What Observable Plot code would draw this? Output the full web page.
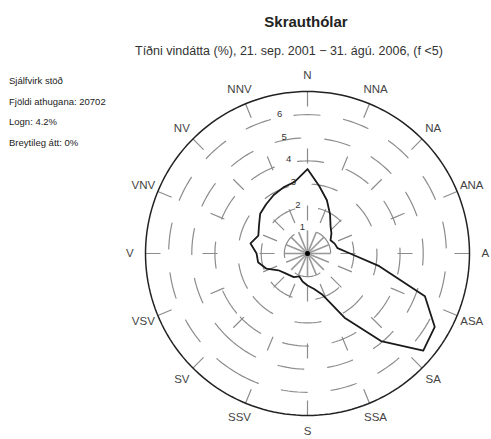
<!DOCTYPE html>
<html>
<head>
<meta charset="utf-8">
<script src="https://cdn.jsdelivr.net/npm/d3@7"></script>
<script src="https://cdn.jsdelivr.net/npm/@observablehq/plot@0.6"></script>
<style>
  html, body { margin: 0; padding: 0; background: #fff; }
  #wrap { position: relative; width: 491px; height: 439px; overflow: hidden; font-family: "Liberation Sans", Arial, sans-serif; }
  #chart { position: absolute; left: 0; top: 0; }
  .t { position: absolute; white-space: nowrap; color: #222; }
  #title { left: 0; width: 612px; top: 13px; text-align: center; font-size: 15px; font-weight: bold; }
  #subtitle { left: 135px; top: 44px; font-size: 12.5px; color: #333; }
  .note { left: 9px; font-size: 9.5px; color: #222; }
</style>
</head>
<body>
<div id="wrap">
  <div id="chart"></div>
  <div class="t" id="title">Skrauthólar</div>
  <div class="t" id="subtitle">Tíðni vindátta (%), 21. sep. 2001 − 31. ágú. 2006, (f &lt;5)</div>
  <div class="t note" style="top:75px">Sjálfvirk stöð</div>
  <div class="t note" style="top:96px">Fjöldi athugana: 20702</div>
  <div class="t note" style="top:116px">Logn: 4.2%</div>
  <div class="t note" style="top:137px">Breytileg átt: 0%</div>
</div>
<script>
// ---- data ----
const sectorDeg = [0,10,20,30,40,50,60,70,80,90,100,110,120,130,140,150,160,170,
                   180,190,200,210,220,230,240,250,260,270,280,290,300,310,320,330,340,350];
const freq = [3.65,2.95,2.45,1.95,1.55,1.35,1.15,1.25,1.32,1.84,3.15,5.4,6.35,6.53,4.94,3.2,1.9,1.55,
              1.38,1.23,1.05,1.18,1.22,1.3,1.45,1.9,2.17,2.2,2.5,2.26,2.42,2.67,2.78,2.92,3.04,3.15];
const dirNames = ["N","NNA","NA","ANA","A","ASA","SA","SSA","S","SSV","SV","VSV","V","VNV","NV","NNV"];
const ringTicks = [1,2,3,4,5,6];
const rMax = 7;

// ---- helpers: polar (compass deg, radius %) -> lon/lat for an azimuthal projection centred on the pole
const K = 10; // degrees of arc per percent unit
const lon = (deg) => 180 - deg;
const lat = (r) => 90 - r * K;

const rose = sectorDeg.map((d, i) => ({deg: d, v: freq[i]}));
const dirs = dirNames.map((name, i) => ({name, deg: i * 360 / dirNames.length}));
const rings = ringTicks.map((v) => d3.geoCircle().center([0, 90]).radius(v * K)());
const outer = d3.geoCircle().center([0, 90]).radius(rMax * K)();
const labelDeg = 360 - 360 / dirNames.length / 2;

const R = 162, cx = 307, cy = 253, W = 491, H = 439;

const chart = Plot.plot({
  width: W,
  height: H,
  marginLeft: cx - R,
  marginRight: W - cx - R,
  marginTop: cy - R,
  marginBottom: H - cy - R,
  projection: {
    type: "azimuthal-equidistant",
    rotate: [0, -90],
    domain: outer,
    inset: 0,
    clip: false
  },
  style: {fontFamily: "Liberation Sans, Arial, sans-serif", background: "transparent", overflow: "visible"},
  marks: [
    // dashed rings
    Plot.geo(rings, {stroke: "#8c8c8c", strokeWidth: 1.2, strokeDasharray: "26,24"}),
    // dashed spokes
    Plot.link(dirs, {
      x1: (d) => lon(d.deg), y1: lat(rMax), x2: (d) => lon(d.deg), y2: lat(1),
      stroke: "#8c8c8c", strokeWidth: 1.2, strokeDasharray: "15,42"
    }),
    // inner solid star
    Plot.link(dirs, {
      x1: (d) => lon(d.deg), y1: lat(0), x2: (d) => lon(d.deg), y2: lat(1),
      stroke: "#9a9a9a", strokeWidth: 1.6
    }),
    // outer circle
    Plot.geo(outer, {stroke: "#222", strokeWidth: 1.5}),
    // ring labels
    Plot.text(ringTicks, {
      x: () => lon(labelDeg), y: (v) => lat(v + 0.15), text: (v) => String(v),
      fontSize: 9.5, fill: "#333"
    }),
    // direction labels
    Plot.text(dirs, {
      x: (d) => lon(d.deg), y: lat(7.68), text: "name",
      fontSize: 11.5, fill: "#444"
    }),
    // frequency polygon
    Plot.line(rose, {
      x: (d) => lon(d.deg), y: (d) => lat(d.v),
      curve: "linear-closed", stroke: "#1a1a1a", strokeWidth: 1.8, strokeLinejoin: "round"
    }),
    // center dot
    Plot.dot([0], {x: 0, y: 90, r: 2.5, fill: "#000", stroke: null})
  ]
});
document.getElementById("chart").appendChild(chart);
</script>
</body>
</html>
